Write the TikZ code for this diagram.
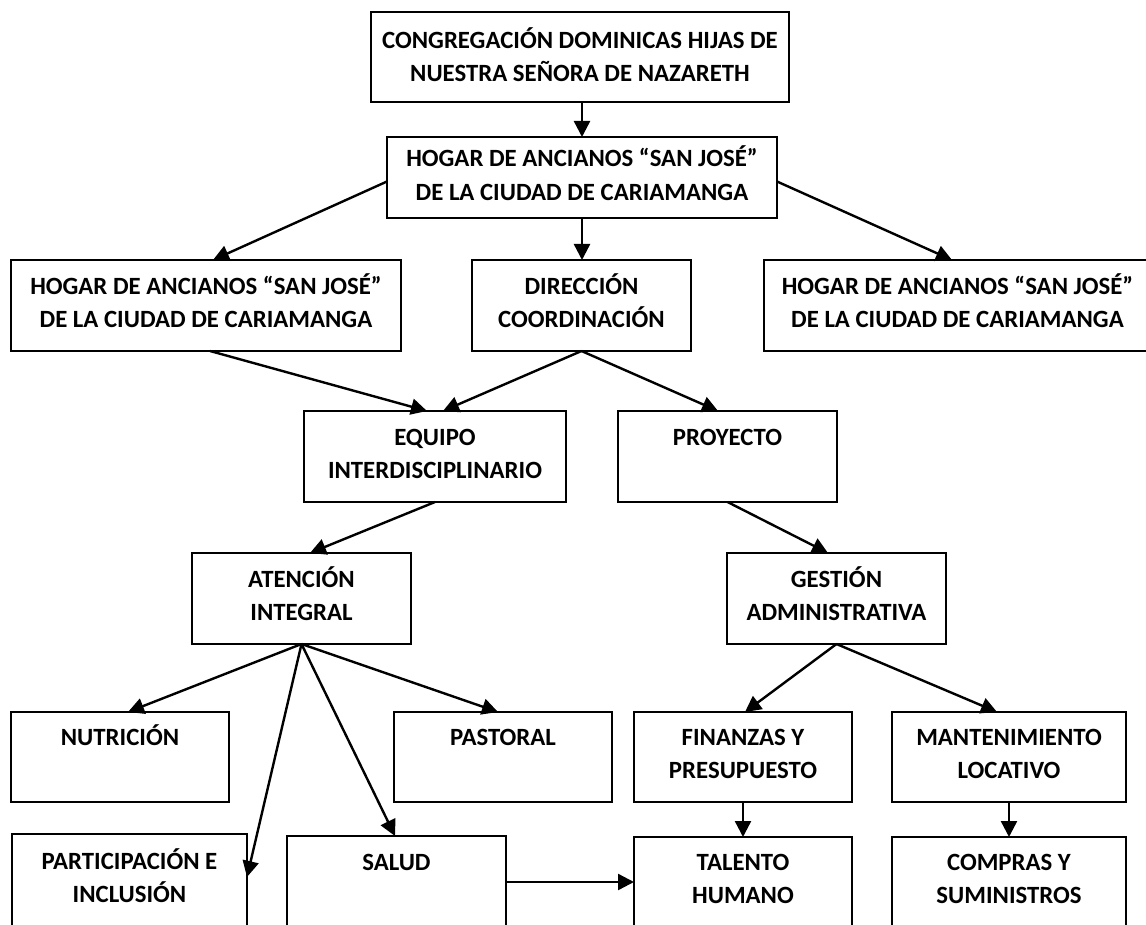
\documentclass[tikz,border=0pt]{standalone}
\usepackage{fontspec}
\setmainfont{Carlito}
\usetikzlibrary{arrows.meta}
\newcommand{\orgbox}[4]{\parbox[c][#2][t]{#1}{\vspace*{#3}\centering\bfseries\fontsize{24.8}{33.5}\selectfont\strut #4\par}}
\tikzset{
  box/.style={draw, line width=2.4pt, inner sep=0pt, outer sep=0pt, anchor=north west},
  link/.style={line width=2.4pt, -{Triangle[length=16pt,width=16pt]}}
}
\begin{document}
\begin{tikzpicture}[x=1pt,y=-1pt]
\useasboundingbox (0,0) rectangle (1146,925);
\clip (0,0) rectangle (1146,925);
\fill[white] (0,0) rectangle (1146,925);
% row 1-2
\node[box] (A) at (371,12) {\orgbox{418pt}{90pt}{13pt}{CONGREGACIÓN DOMINICAS HIJAS DE\\NUESTRA SEÑORA DE NAZARETH}};
\node[box] (B) at (387,137) {\orgbox{390pt}{81pt}{6.5pt}{HOGAR DE ANCIANOS “SAN JOSÉ”\\DE LA CIUDAD DE CARIAMANGA}};
% row 3
\node[box] (C) at (11,260) {\orgbox{390pt}{91pt}{11pt}{HOGAR DE ANCIANOS “SAN JOSÉ”\\DE LA CIUDAD DE CARIAMANGA}};
\node[box] (D) at (472,260) {\orgbox{219pt}{91pt}{11pt}{DIRECCIÓN\\COORDINACIÓN}};
\node[box] (E) at (764,260) {\orgbox{387pt}{91pt}{11pt}{HOGAR DE ANCIANOS “SAN JOSÉ”\\DE LA CIUDAD DE CARIAMANGA}};
% row 4
\node[box] (F) at (304,411) {\orgbox{262pt}{91pt}{11pt}{EQUIPO\\INTERDISCIPLINARIO}};
\node[box] (G) at (618,411) {\orgbox{219pt}{91pt}{11pt}{PROYECTO}};
% row 5
\node[box] (H) at (192,553) {\orgbox{219pt}{91pt}{11pt}{ATENCIÓN\\INTEGRAL}};
\node[box] (I) at (727,553) {\orgbox{219pt}{91pt}{11pt}{GESTIÓN\\ADMINISTRATIVA}};
% row 6
\node[box] (J) at (11,712) {\orgbox{218pt}{90pt}{10pt}{NUTRICIÓN}};
\node[box] (K) at (394,712) {\orgbox{218pt}{90pt}{10pt}{PASTORAL}};
\node[box] (L) at (634,712) {\orgbox{218pt}{90pt}{10pt}{FINANZAS Y\\PRESUPUESTO}};
\node[box] (M) at (892,712) {\orgbox{234pt}{90pt}{10pt}{MANTENIMIENTO\\LOCATIVO}};
% row 7
\node[box] (N) at (12,834) {\orgbox{235pt}{100pt}{12pt}{PARTICIPACIÓN E\\INCLUSIÓN}};
\node[box] (O) at (287,836) {\orgbox{219pt}{100pt}{11pt}{SALUD}};
\node[box] (P) at (634,837) {\orgbox{218pt}{100pt}{10pt}{TALENTO\\HUMANO}};
\node[box] (Q) at (892,837) {\orgbox{234pt}{100pt}{10pt}{COMPRAS Y\\SUMINISTROS}};
% connectors
\draw[link] (A.south -| B.north) -- (B.north);
\draw[link] ([yshift=-4pt]B.west) -- ([xshift=7pt]C.north);
\draw[link] (B.south) -- (B.south |- D.north);
\draw[link] ([yshift=-4pt]B.east) -- ([xshift=-5.5pt]E.north);
\draw[link] ([xshift=4pt]C.south) -- ([xshift=-8pt]F.north);
\draw[link] (D.south) -- ([xshift=8pt]F.north);
\draw[link] (D.south) -- ([xshift=-9.5pt]G.north);
\draw[link] (F.south) -- ([xshift=8.5pt]H.north);
\draw[link] (G.south) -- ([xshift=-8.5pt]I.north);
\draw[link] (H.south) -- ([xshift=8pt]J.north);
\draw[link] (H.south) -- ([yshift=7pt]N.east);
\draw[link] (H.south) -- ([xshift=-1.5pt]O.north);
\draw[link] (H.south) -- ([xshift=-5pt]K.north);
\draw[link] (I.south) -- ([xshift=2pt]L.north);
\draw[link] (I.south) -- ([xshift=-12pt]M.north);
\draw[link] (L.south) -- (L.south |- P.north);
\draw[link] (M.south) -- (M.south |- Q.north);
\draw[link] ([yshift=4pt]O.east) -- ([yshift=4pt]O.east -| P.west);
\end{tikzpicture}
\end{document}
